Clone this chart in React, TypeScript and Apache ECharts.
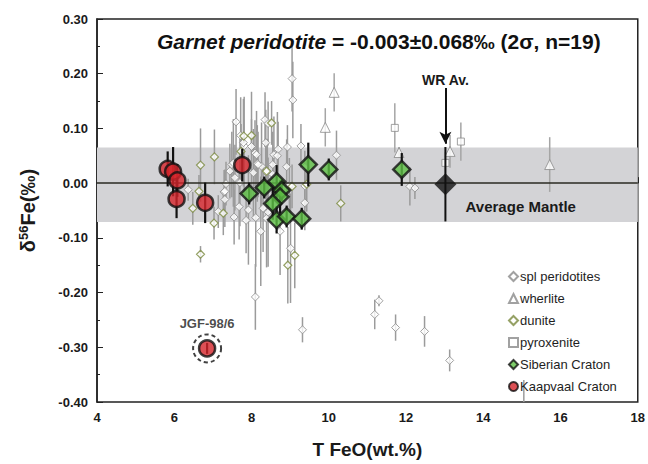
import { useEffect, useRef } from 'react';
import * as echarts from 'echarts';

const FONT = '"Liberation Sans", Arial, Helvetica, sans-serif';

// [T FeO wt.%, δ56Fe ‰, error]
const splPeridotites: [number, number, number][] = [
  [9.05, 0.191, 0.06], [9.07, 0.152, 0.07], [7.6, 0.112, 0.06], [8.35, 0.116, 0.05],
  [8.43, 0.109, 0.04], [7.72, 0.087, 0.07], [8.37, 0.074, 0.06], [8.69, 0.062, 0.05],
  [8.93, 0.066, 0.04], [9.28, 0.068, 0.04], [10.2, 0.051, 0.045], [8.91, 0.03, 0.05],
  [9.38, 0.029, 0.03], [9.38, -0.005, 0.04], [9.38, -0.036, 0.05], [9.01, -0.119, 0.1],
  [8.24, -0.088, 0.1], [8.74, -0.088, 0.08], [7.34, -0.001, 0.04], [7.29, -0.016, 0.04],
  [7.14, -0.052, 0.03], [7.55, -0.062, 0.05], [7.49, 0.034, 0.06], [7.44, 0.022, 0.05],
  [7.57, 0.01, 0.06], [7.7, 0.001, 0.08], [7.68, -0.043, 0.06], [7.92, -0.049, 0.1],
  [7.86, -0.068, 0.06], [8.11, -0.063, 0.09], [8.05, 0.019, 0.08], [8.15, 0.036, 0.07],
  [8.26, 0.031, 0.08], [8.09, 0.055, 0.06], [8.0, 0.067, 0.1], [7.81, 0.068, 0.09],
  [8.58, 0.052, 0.07], [8.67, 0.05, 0.08], [8.55, 0.034, 0.06], [8.3, -0.046, 0.08],
  [8.39, -0.064, 0.09], [8.98, -0.004, 0.05], [7.79, 0.074, 0.08], [8.13, 0.052, 0.08],
  [8.17, 0.034, 0.06], [7.53, 0.037, 0.08], [8.41, 0.021, 0.06], [7.31, -0.015, 0.04],
  [7.31, -0.03, 0.05], [8.43, -0.053, 0.1], [8.38, 0.02, 0.05], [8.55, 0.016, 0.05],
  [6.36, -0.012, 0.02], [8.1, -0.208, 0.06], [9.32, -0.268, 0.023], [11.3, -0.215, 0.01],
  [11.19, -0.24, 0.027], [11.73, -0.264, 0.024], [12.48, -0.271, 0.028], [13.13, -0.324, 0.02],
  [12.1, -0.006, 0.035], [12.23, -0.009, 0.02], [15.05, -0.43, 0.07],
];

const dunite: [number, number, number][] = [
  [7.04, 0.048, 0.05], [6.68, 0.033, 0.067], [6.64, -0.015, 0.03], [6.48, -0.046, 0.03],
  [7.03, -0.073, 0.03], [7.27, -0.055, 0.04], [6.68, -0.13, 0.015], [7.8, 0.086, 0.03],
  [8.0, 0.087, 0.03], [8.52, 0.11, 0.04], [7.73, 0.058, 0.05], [8.39, 0.022, 0.04],
  [9.43, -0.002, 0.05], [10.31, -0.037, 0.033], [9.12, -0.132, 0.06], [8.94, -0.15, 0.07],
  [9.05, -0.006, 0.04],
];

const wherlite: [number, number, number][] = [
  [10.14, 0.166, 0.035], [9.91, 0.102, 0.035], [11.82, 0.056, 0.01],
  [13.14, 0.058, 0.03], [15.72, 0.034, 0.05],
];

const pyroxenite: [number, number, number][] = [
  [11.71, 0.101, 0.045], [13.42, 0.076, 0.035], [13.02, 0.037, 0.02],
];

const siberian: [number, number, number][] = [
  [9.47, 0.034, 0.04], [10.0, 0.025, 0.02], [7.94, -0.019, 0.02], [8.33, -0.008, 0.02],
  [8.65, 0.003, 0.03], [8.78, -0.013, 0.02], [8.74, -0.025, 0.03], [8.55, -0.037, 0.03],
  [8.65, -0.067, 0.025], [8.91, -0.061, 0.02], [9.3, -0.065, 0.02], [11.89, 0.025, 0.03],
];

const kaapvaal: [number, number, number][] = [
  [5.83, 0.026, 0.032], [5.97, 0.021, 0.045], [6.08, 0.005, 0.03], [6.06, -0.029, 0.035],
  [6.8, -0.036, 0.037], [7.76, 0.033, 0.03], [6.85, -0.302, 0.01],
];

const outlier: [number, number][] = [[6.85, -0.302]];
const wrAverage: [number, number, number][] = [[13.02, -0.002, 0.068]];
const mantleBand: [number, number] = [-0.071, 0.065];
const wrArrow: [number, number] = [0.174, 0.072];
const mantleLabelAt: [number, number] = [14.97, -0.042];

const Y_MIN = -0.4;
const Y_MAX = 0.3;

function errorBars(id: string, data: [number, number, number][], color: string, width: number, z: number) {
  return {
    type: 'custom',
    name: id,
    silent: true,
    z,
    data: data.map((d) => [d[0], d[1] - d[2], d[1] + d[2]]),
    encode: { x: 0, y: [1, 2] },
    renderItem: (_p: any, api: any) => {
      const lo = Math.max(Y_MIN, api.value(1));
      const hi = Math.min(Y_MAX, api.value(2));
      if (hi <= lo) return null;
      const a = api.coord([api.value(0), lo]);
      const b = api.coord([api.value(0), hi]);
      return {
        type: 'line',
        shape: { x1: a[0], y1: a[1], x2: b[0], y2: b[1] },
        style: { stroke: color, lineWidth: width },
      };
    },
  };
}

const pts = (d: [number, number, number][]) => d.filter((p) => p[1] >= Y_MIN).map((p) => [p[0], p[1]]);

export default function App() {
  const ref = useRef<HTMLDivElement>(null);
  useEffect(() => {
    if (!ref.current) return;
    const chart = echarts.init(ref.current, null, { renderer: 'svg' });
    const bold = { fontFamily: FONT, fontWeight: 'bold' as const, color: '#1a1a1a' };
    chart.setOption({
      animation: false,
      backgroundColor: '#ffffff',
      textStyle: { fontFamily: FONT },
      title: {
        text: '{i|Garnet peridotite}{n| = -0.003±0.068‰ (2σ, n=19)}',
        left: 152,
        top: 26,
        textStyle: {
          rich: {
            i: { fontFamily: FONT, fontWeight: 'bold', fontStyle: 'italic', fontSize: 21, color: '#111' },
            n: { fontFamily: FONT, fontWeight: 'bold', fontSize: 21, color: '#111' },
          },
        },
      },
      legend: {
        orient: 'vertical',
        left: 503,
        top: 265,
        itemWidth: 9,
        itemHeight: 9,
        itemGap: 9,
        textStyle: { fontFamily: FONT, fontSize: 13, color: '#1e1e1e', padding: [0, 0, 0, -3] },
        data: ['spl peridotites', 'wherlite', 'dunite', 'pyroxenite', 'Siberian Craton', 'Kaapvaal Craton'],
      },
      grid: {
        left: 97,
        right: 9,
        top: 19,
        bottom: 53,
        show: true,
        borderColor: '#222',
        borderWidth: 1.5,
        backgroundColor: 'transparent',
      },
      xAxis: {
        type: 'value',
        min: 4,
        max: 18,
        interval: 2,
        name: 'T FeO(wt.%)',
        nameLocation: 'middle',
        nameGap: 38,
        nameTextStyle: { ...bold, fontSize: 19 },
        axisLine: { lineStyle: { color: '#222', width: 1.5 } },
        axisTick: { inside: true, length: 6, lineStyle: { color: '#222' } },
        minorTick: { show: true, splitNumber: 5, length: 3, lineStyle: { color: '#222' } },
        splitLine: { show: false },
        axisLabel: { ...bold, fontSize: 13, margin: 9 },
      },
      yAxis: {
        type: 'value',
        min: Y_MIN,
        max: Y_MAX,
        interval: 0.1,
        name: '{d|δ}{s|56}{d|Fe(‰)}',
        nameLocation: 'middle',
        nameGap: 58,
        nameTextStyle: {
          rich: {
            d: { ...bold, fontSize: 20, lineHeight: 22 },
            s: { ...bold, fontSize: 13, lineHeight: 12, verticalAlign: 'top' },
          },
        },
        axisLine: { lineStyle: { color: '#222', width: 1.5 } },
        axisTick: { inside: true, length: 6, lineStyle: { color: '#222' } },
        minorTick: { show: true, splitNumber: 2, length: 3, lineStyle: { color: '#222' } },
        splitLine: { show: false },
        axisLabel: { ...bold, fontSize: 13, margin: 9, formatter: (v: number) => v.toFixed(2) },
      },
      series: [
        {
          type: 'scatter',
          name: 'band',
          silent: true,
          z: 0,
          data: [],
          markArea: {
            silent: true,
            itemStyle: { color: '#d3d3d6' },
            data: [[{ yAxis: mantleBand[0] }, { yAxis: mantleBand[1] }]],
          },
        },
        errorBars('eb-spl', splPeridotites, '#9b9b9b', 1.5, 2),
        errorBars('eb-dun', dunite, '#9b9b9b', 1.5, 2),
        errorBars('eb-whr', wherlite, '#a5a5a5', 1.5, 2),
        errorBars('eb-pyx', pyroxenite, '#a5a5a5', 1.5, 2),
        {
          type: 'scatter',
          name: 'zero',
          silent: true,
          z: 3,
          data: [],
          markLine: {
            silent: true,
            symbol: 'none',
            label: { show: false },
            lineStyle: { color: '#2a2a22', width: 1.5, type: 'solid' },
            data: [{ yAxis: 0 }],
          },
        },
        {
          type: 'scatter',
          name: 'spl peridotites',
          z: 4,
          symbol: 'diamond',
          symbolSize: 8,
          itemStyle: { color: '#ffffff', borderColor: '#8a8a8a', borderWidth: 1 },
          data: pts(splPeridotites),
        },
        {
          type: 'scatter',
          name: 'dunite',
          z: 4,
          symbol: 'diamond',
          symbolSize: 8,
          itemStyle: { color: '#ffffff', borderColor: '#7a8a3e', borderWidth: 1.2 },
          data: pts(dunite),
        },
        {
          type: 'scatter',
          name: 'wherlite',
          z: 4,
          symbol: 'triangle',
          symbolSize: 10,
          itemStyle: { color: '#ffffff', borderColor: '#8a8a8a', borderWidth: 1 },
          data: pts(wherlite),
        },
        {
          type: 'scatter',
          name: 'pyroxenite',
          z: 4,
          symbol: 'rect',
          symbolSize: 7,
          itemStyle: { color: '#ffffff', borderColor: '#8a8a8a', borderWidth: 1 },
          data: pts(pyroxenite),
        },
        errorBars('eb-sib', siberian, '#111111', 2.2, 5),
        errorBars('eb-kaa', kaapvaal, '#111111', 2.2, 5),
        errorBars('eb-wr', wrAverage, '#111111', 2, 5),
        {
          type: 'scatter',
          name: 'Siberian Craton',
          z: 6,
          symbol: 'diamond',
          symbolSize: 17,
          itemStyle: { color: '#5ec045', borderColor: '#111111', borderWidth: 2.5 },
          data: pts(siberian),
        },
        {
          type: 'scatter',
          name: 'Kaapvaal Craton',
          z: 6,
          symbol: 'circle',
          symbolSize: 16,
          itemStyle: { color: '#d4242b', borderColor: '#111111', borderWidth: 2.5 },
          data: pts(kaapvaal),
        },
        {
          type: 'scatter',
          name: 'outlier',
          z: 6,
          silent: true,
          symbol: 'circle',
          symbolSize: 28,
          itemStyle: { color: 'rgba(0,0,0,0)', borderColor: '#111111', borderWidth: 2, borderType: [4, 3] },
          label: {
            show: true,
            position: 'top',
            distance: 3,
            formatter: 'JGF-98/6',
            ...bold,
            fontSize: 13,
          },
          data: outlier,
        },
        {
          type: 'scatter',
          name: 'WR Av.',
          z: 7,
          symbol: 'diamond',
          symbolSize: 22,
          itemStyle: { color: '#111111' },
          data: pts(wrAverage),
          markLine: {
            silent: true,
            symbol: ['none', 'arrow'],
            symbolSize: [9, 12],
            lineStyle: { color: '#111111', width: 2, type: 'solid' },
            label: { show: true, position: 'start', distance: 1, formatter: 'WR Av.', ...bold, fontSize: 14 },
            data: [[{ coord: [wrAverage[0][0], wrArrow[0]] }, { coord: [wrAverage[0][0], wrArrow[1]] }]],
          },
          markPoint: {
            silent: true,
            symbol: 'circle',
            symbolSize: 1,
            itemStyle: { color: 'rgba(0,0,0,0)' },
            label: { show: true, position: 'inside', formatter: 'Average Mantle', ...bold, fontSize: 15 },
            data: [{ coord: mantleLabelAt }],
          },
        },
      ],
    });
    return () => chart.dispose();
  }, []);
  return (
    <div
      ref={ref}
      style={{ position: 'fixed', left: 0, top: 0, width: 648, height: 464, background: '#fff' }}
    />
  );
}
